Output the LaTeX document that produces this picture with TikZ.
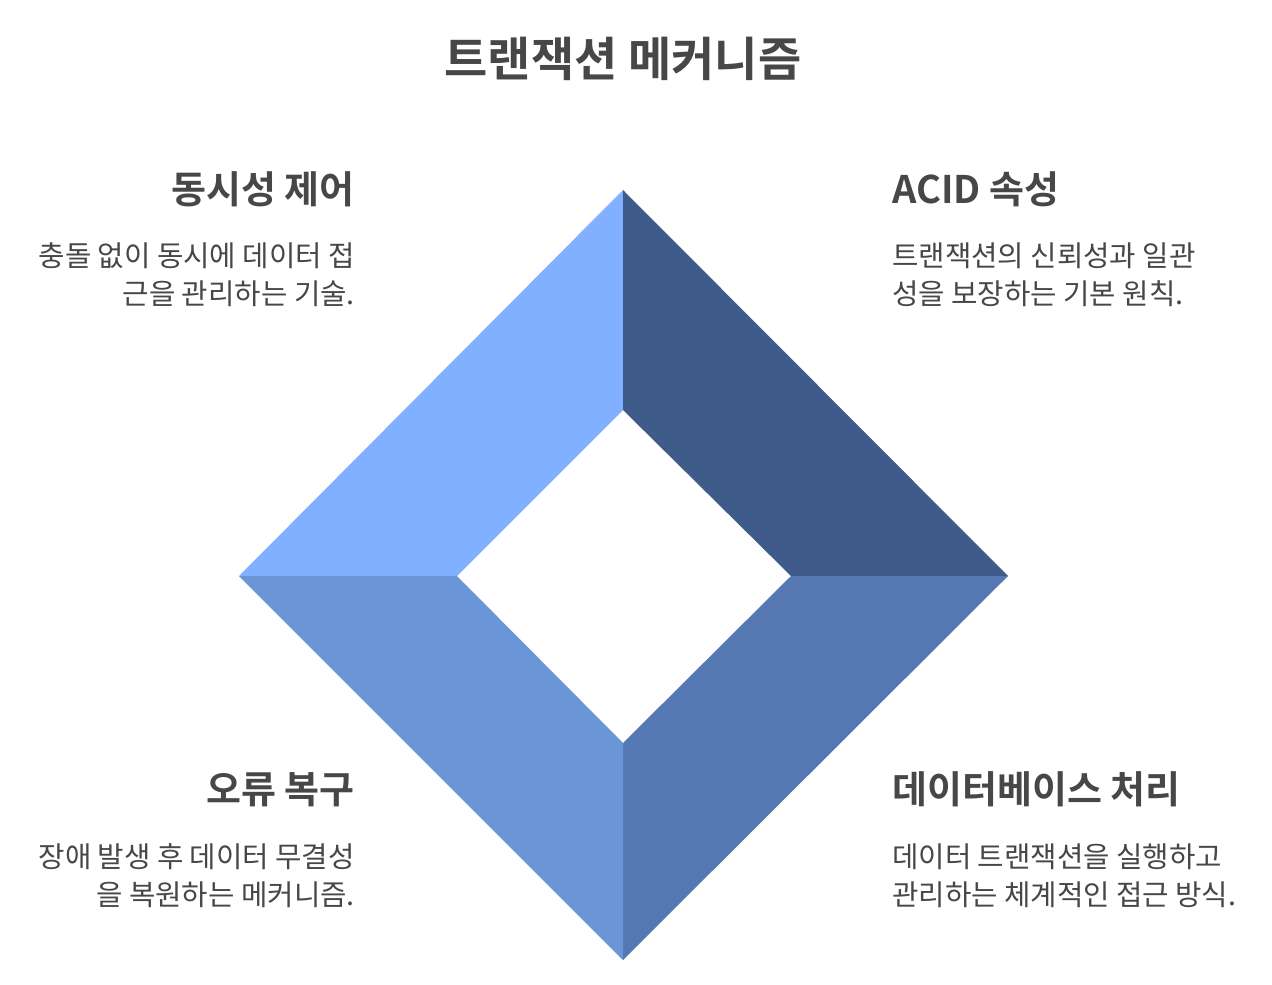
\documentclass[tikz,border=0pt]{standalone}
\usepackage{fontspec}
\setmainfont{Noto Sans CJK KR}
\newfontfamily\kr{Noto Sans CJK KR}
\newfontfamily\krb{Noto Sans CJK KR Bold}
\definecolor{tl}{HTML}{80B0FF}
\definecolor{tr}{HTML}{3F5B8A}
\definecolor{br}{HTML}{5578B3}
\definecolor{bl}{HTML}{6A95D6}
\definecolor{txt}{HTML}{474747}
\begin{document}
\begin{tikzpicture}[x=1pt,y=-1pt,
  title/.style={text=txt,font=\krb\fontsize{47}{56}\selectfont,inner sep=0pt},
  head/.style={text=txt,font=\krb\fontsize{38}{44}\selectfont,inner sep=0pt},
  body/.style={text=txt,font=\kr\fontsize{28.7}{34}\selectfont,inner sep=0pt}]
\useasboundingbox (0,0) rectangle (1272,985);
\fill[white] (0,0) rectangle (1272,985);
% outer and inner diamond points
\coordinate (OT) at (623,190);
\coordinate (OR) at (1008,576);
\coordinate (OB) at (623,960);
\coordinate (OL) at (239,576);
\coordinate (IT) at (623,410);
\coordinate (IR) at (791,576);
\coordinate (IB) at (623,743);
\coordinate (IL) at (457,576);
\fill[tl] (OL) -- (OT) -- (IT) -- (IL) -- cycle;
\fill[tr] (OT) -- (OR) -- (IR) -- (IT) -- cycle;
\fill[br] (OR) -- (OB) -- (IB) -- (IR) -- cycle;
\fill[bl] (OL) -- (OB) -- (IB) -- (IL) -- cycle;
% title
\node[title,anchor=base] (ttl) at (623,76) {트랜잭션 메커니즘};
% top-left
\node[head,anchor=base east] (h1) at (355,203) {동시성 제어};
\node[body,anchor=base east] (b1a) at (355,266) {충돌 없이 동시에 데이터 접};
\node[body,anchor=base east] (b1b) at (355,304) {근을 관리하는 기술.};
% top-right
\node[head,anchor=base west] (h2) at (892,203) {ACID 속성};
\node[body,anchor=base west] (b2a) at (892,266) {트랜잭션의 신뢰성과 일관};
\node[body,anchor=base west] (b2b) at (892,304) {성을 보장하는 기본 원칙.};
% bottom-left
\node[head,anchor=base east] (h3) at (355,803) {오류 복구};
\node[body,anchor=base east] (b3a) at (355,867) {장애 발생 후 데이터 무결성};
\node[body,anchor=base east] (b3b) at (355,905) {을 복원하는 메커니즘.};
% bottom-right
\node[head,anchor=base west] (h4) at (892,803) {데이터베이스 처리};
\node[body,anchor=base west] (b4a) at (892,867) {데이터 트랜잭션을 실행하고};
\node[body,anchor=base west] (b4b) at (892,905) {관리하는 체계적인 접근 방식.};
\end{tikzpicture}
\end{document}
